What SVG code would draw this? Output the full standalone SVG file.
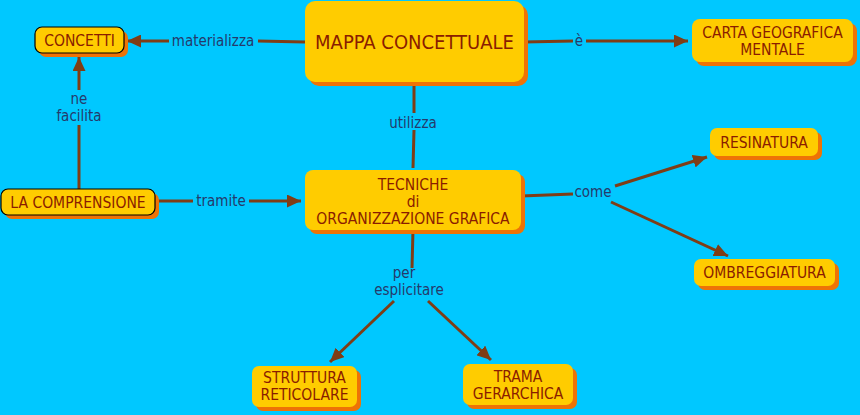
<svg xmlns="http://www.w3.org/2000/svg" width="860" height="415" viewBox="0 0 860 415">
<defs>
<style>
.sh{fill:#EE7306}
.bx{fill:#FFCC00}
.bd{stroke:#000;stroke-width:1.2}
.nt{font-family:"DejaVu Sans Condensed","DejaVu Sans",sans-serif;font-size:15.5px;fill:#8A1C00;text-anchor:middle}
.lt{font-family:"DejaVu Sans Condensed","DejaVu Sans",sans-serif;font-size:15px;fill:#253A6B;text-anchor:middle}
.ln{stroke:#7F3D16;stroke-width:3;fill:none}
.ar{marker-end:url(#ah)}
</style>
<marker id="ah" markerUnits="userSpaceOnUse" markerWidth="15" markerHeight="13" refX="14" refY="6.5" orient="auto">
<path d="M0,0 L14,6.5 L0,13 z" fill="#7F3D16"/>
</marker>
</defs>
<rect width="860" height="415" fill="#00C8FF"/>
<g id="connectors">
<line class="ln" x1="305" y1="42" x2="258" y2="41"/>
<line class="ln ar" x1="169" y1="41" x2="127" y2="41"/>
<line class="ln" x1="524" y1="42" x2="573" y2="41"/>
<line class="ln ar" x1="586" y1="41" x2="688" y2="41"/>
<line class="ln" x1="414" y1="82" x2="414" y2="113"/>
<line class="ln" x1="414" y1="130" x2="413" y2="168"/>
<line class="ln" x1="79" y1="189" x2="79" y2="125"/>
<line class="ln ar" x1="79" y1="90" x2="79" y2="57"/>
<line class="ln" x1="158" y1="201" x2="193" y2="201"/>
<line class="ln ar" x1="249" y1="201" x2="301" y2="201"/>
<line class="ln" x1="521" y1="196" x2="573" y2="194"/>
<line class="ln ar" x1="615" y1="186" x2="707" y2="157"/>
<line class="ln ar" x1="611" y1="202" x2="728" y2="256"/>
<line class="ln" x1="413" y1="230" x2="412" y2="268"/>
<line class="ln ar" x1="394" y1="301" x2="330" y2="362"/>
<line class="ln ar" x1="428" y1="301" x2="491" y2="360"/>
<text class="lt" x="213" y="46">materializza</text>
<text class="lt" x="579" y="46">è</text>
<text class="lt" x="413" y="128">utilizza</text>
<text class="lt" x="79" y="104">ne</text>
<text class="lt" x="79" y="121">facilita</text>
<text class="lt" x="221" y="206">tramite</text>
<text class="lt" x="593" y="197">come</text>
<text class="lt" x="404" y="278">per</text>
<text class="lt" x="409" y="295">esplicitare</text>
</g>
<g id="n-concetti">
<rect class="sh" x="39" y="31" width="89" height="26" rx="7"/>
<rect class="bx bd" x="35" y="27" width="89" height="26" rx="7"/>
<text class="nt" x="79.5" y="46">CONCETTI</text>
</g>
<g id="n-mappa">
<rect class="sh" x="309" y="5" width="219" height="81" rx="10"/>
<rect class="bx" x="305" y="1" width="219" height="81" rx="10"/>
<text class="nt" x="414.5" y="49" style="font-size:20px">MAPPA CONCETTUALE</text>
</g>
<g id="n-carta">
<rect class="sh" x="696" y="23" width="161" height="43" rx="8"/>
<rect class="bx" x="692" y="19" width="161" height="43" rx="8"/>
<text class="nt" x="772.5" y="38">CARTA GEOGRAFICA</text>
<text class="nt" x="772.5" y="55">MENTALE</text>
</g>
<g id="n-comprensione">
<rect class="sh" x="5" y="193" width="154" height="26" rx="7"/>
<rect class="bx bd" x="1" y="189" width="154" height="26" rx="7"/>
<text class="nt" x="78" y="208">LA COMPRENSIONE</text>
</g>
<g id="n-tecniche">
<rect class="sh" x="309" y="174" width="216" height="60" rx="8"/>
<rect class="bx" x="305" y="170" width="216" height="60" rx="8"/>
<text class="nt" x="413" y="189.5">TECNICHE</text>
<text class="nt" x="413" y="206.5">di</text>
<text class="nt" x="413" y="223.5">ORGANIZZAZIONE GRAFICA</text>
</g>
<g id="n-resinatura">
<rect class="sh" x="714" y="132" width="108" height="28" rx="7"/>
<rect class="bx" x="710" y="128" width="108" height="28" rx="7"/>
<text class="nt" x="764" y="147.5">RESINATURA</text>
</g>
<g id="n-ombreggiatura">
<rect class="sh" x="698" y="263" width="141" height="27" rx="7"/>
<rect class="bx" x="694" y="259" width="141" height="27" rx="7"/>
<text class="nt" x="764.5" y="278">OMBREGGIATURA</text>
</g>
<g id="n-struttura">
<rect class="sh" x="256" y="370" width="105" height="41" rx="7"/>
<rect class="bx" x="252" y="366" width="105" height="41" rx="7"/>
<text class="nt" x="304.5" y="383">STRUTTURA</text>
<text class="nt" x="304.5" y="400">RETICOLARE</text>
</g>
<g id="n-trama">
<rect class="sh" x="467" y="368" width="110" height="41" rx="7"/>
<rect class="bx" x="463" y="364" width="110" height="41" rx="7"/>
<text class="nt" x="518" y="381.5">TRAMA</text>
<text class="nt" x="518" y="398.5">GERARCHICA</text>
</g>
</svg>
